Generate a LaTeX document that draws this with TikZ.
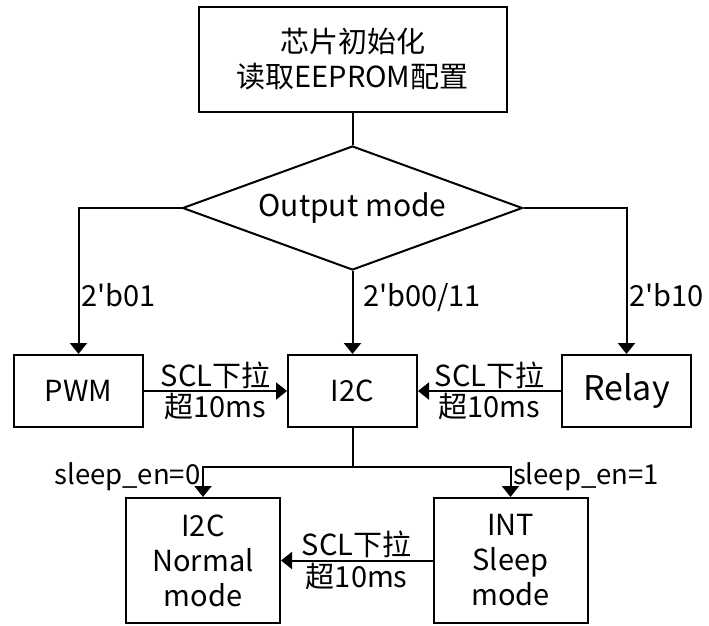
\documentclass[tikz,border=0pt]{standalone}
\usepackage{fontspec}
\setmainfont{Noto Sans CJK SC}
\usetikzlibrary{shapes.geometric, arrows.meta, positioning, calc}

\begin{document}
\begin{tikzpicture}[x=1pt, y=-1pt, line width=2pt,
    block/.style={rectangle, draw, align=center, inner sep=0pt, font=\fontsize{29}{35}\selectfont},
    small/.style={block, minimum width=129pt, minimum height=72pt},
    tall/.style={block, minimum width=154pt, minimum height=125pt},
    decision/.style={diamond, draw, aspect=2.7, inner sep=0pt, minimum width=340pt, minimum height=124pt, font=\fontsize{30}{35}\selectfont},
    lbl/.style={inner sep=1.5pt, font=\fontsize{29}{35}\selectfont},
    arrow/.style={-{Triangle[length=11pt,width=17pt]}}]
    \useasboundingbox (0,0) rectangle (709,625);
    \node [block, minimum width=308pt, minimum height=105pt] (init) at (352.5,59.5) {芯片初始化\\读取EEPROM配置};
    \node [decision] (mode) at (352.5,208) {Output mode};
    \node [small] (pwm) at (78.5,391) {PWM};
    \node [small] (i2c) at (352.5,391) {I2C};
    \node [small, font=\fontsize{34}{40}\selectfont] (relay) at (626.5,391) {Relay};
    \node [tall] (normal) at (203,560.5) {I2C\\Normal\\mode};
    \node [tall] (sleep) at (510.5,560.5) {INT\\Sleep\\mode};
    \coordinate (split) at (352.5,467);
    \draw (init) -- (mode);
    \draw [arrow] (mode.west) -| (pwm.north) node [lbl, pos=0.8, anchor=west] {2\textquotesingle b01};
    \draw [arrow] (mode.south) -- (i2c.north) node [lbl, pos=0.32, anchor=west, xshift=8pt] {2\textquotesingle b00/11};
    \draw [arrow] (mode.east) -| (relay.north) node [lbl, pos=0.8, anchor=west] {2\textquotesingle b10};
    \draw [arrow] (pwm) -- (i2c) node [lbl, midway, above] {SCL下拉} node [lbl, midway, below] {超10ms};
    \draw [arrow] (relay) -- (i2c) node [lbl, midway, above] {SCL下拉} node [lbl, midway, below] {超10ms};
    \draw (i2c) -- (split);
    \draw [arrow] (split) -| (normal.north) node [lbl, pos=0.79, anchor=base east, font=\fontsize{27.5}{33}\selectfont] {sleep\_en=0};
    \draw [arrow] (split) -| (sleep.north) node [lbl, pos=0.79, anchor=base west, font=\fontsize{27.5}{33}\selectfont] {sleep\_en=1};
    \draw [arrow] (sleep) -- (normal) node [lbl, midway, above] {SCL下拉} node [lbl, midway, below] {超10ms};
\end{tikzpicture}
\end{document}
